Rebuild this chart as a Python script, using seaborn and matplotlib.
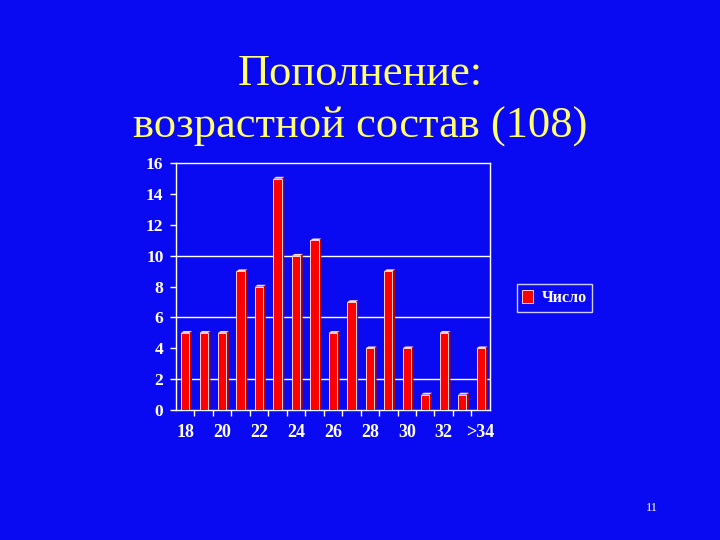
import matplotlib
matplotlib.use('Agg')
import matplotlib.pyplot as plt
import seaborn as sns
import pandas as pd
from matplotlib.patches import Polygon

# age groups and counts (sum = 108)
ages = ['18', '19', '20', '21', '22', '23', '24', '25', '26',
        '27', '28', '29', '30', '31', '32', '33', '>34']
counts = [5, 5, 5, 9, 8, 15, 10, 11, 5, 7, 4, 9, 4, 1, 5, 1, 4]
tick_labels = ['18', '20', '22', '24', '26', '28', '30', '32', '>34']
y_ticks = [0, 2, 4, 6, 8, 10, 12, 14, 16]
grid_lines = [2, 6, 10]

df = pd.DataFrame({'age': ages, 'count': counts})

bg = '#0a0af2'
sns.set_style('white')
plt.rcParams['font.family'] = ['Liberation Serif', 'DejaVu Serif']

fig = plt.figure(figsize=(7.2, 5.4), dpi=100, facecolor=bg)
ax = fig.add_axes([0.2444, 0.2407, 0.436, 0.457])
ax.set_facecolor(bg)

sns.barplot(data=df, x='age', y='count', order=ages, color='#ff0000',
            width=0.45, saturation=1, edgecolor='#ffd0d0', linewidth=0.7,
            label='Число', ax=ax, zorder=3)

# darker side face for the 3D look
for p in list(ax.patches):
    x0, y0 = p.get_x() + p.get_width(), p.get_y()
    h = p.get_height()
    d = 0.14
    side = Polygon([(x0, y0), (x0 + d, y0 + 0.12), (x0 + d, y0 + h + 0.12), (x0, y0 + h)],
                   closed=True, facecolor='#b00000', edgecolor='none', zorder=2.9)
    ax.add_patch(side)
    top = Polygon([(x0 - p.get_width(), y0 + h), (x0 - p.get_width() + d, y0 + h + 0.12),
                   (x0 + d, y0 + h + 0.12), (x0, y0 + h)],
                  closed=True, facecolor='#ffe0e0', edgecolor='none', zorder=2.95)
    ax.add_patch(top)

for g in grid_lines:
    ax.axhline(g, color='white', lw=1.0, zorder=1)

ax.set_xlim(-0.5, len(ages) - 0.5)
ax.set_ylim(0, 16)
ax.set_yticks(y_ticks)
ax.set_xticks(range(0, len(ages), 2))
ax.set_xticklabels(tick_labels)
ax.set_xticks([i + 0.5 for i in range(len(ages) - 1)], minor=True)
ax.tick_params(axis='x', which='major', length=0, pad=10, colors='white', labelsize=13)
ax.tick_params(axis='x', which='minor', length=4, width=1, color='white', direction='out', bottom=True)
ax.tick_params(axis='y', length=4, width=1, color='white', direction='out', pad=5,
               labelcolor='white', labelsize=12.5, left=True)
for lab in ax.get_xticklabels() + ax.get_yticklabels():
    lab.set_fontweight('bold')
ax.set_xlabel('')
ax.set_ylabel('')
for s in ax.spines.values():
    s.set_color('white')
    s.set_linewidth(1.0)
    s.set_visible(True)

leg = ax.legend(loc='center', bbox_to_anchor=(0.770, 0.448), bbox_transform=fig.transFigure,
                frameon=True, fancybox=False, facecolor=bg, edgecolor='white',
                prop={'weight': 'bold', 'size': 11.5}, handlelength=0.7, handleheight=0.9,
                handletextpad=0.5, borderpad=0.35)
for t in leg.get_texts():
    t.set_color('white')
leg.get_frame().set_linewidth(1.0)

fig.text(0.5, 0.863, 'Пополнение:', ha='center', va='center', color='#ffff70', fontsize=32)
fig.text(0.5, 0.766, 'возрастной состав (108)', ha='center', va='center', color='#ffff70', fontsize=32)
fig.text(0.905, 0.06, '11', ha='center', va='center', color='white', fontsize=9)

fig.savefig('out.png', dpi=100, facecolor=bg)
